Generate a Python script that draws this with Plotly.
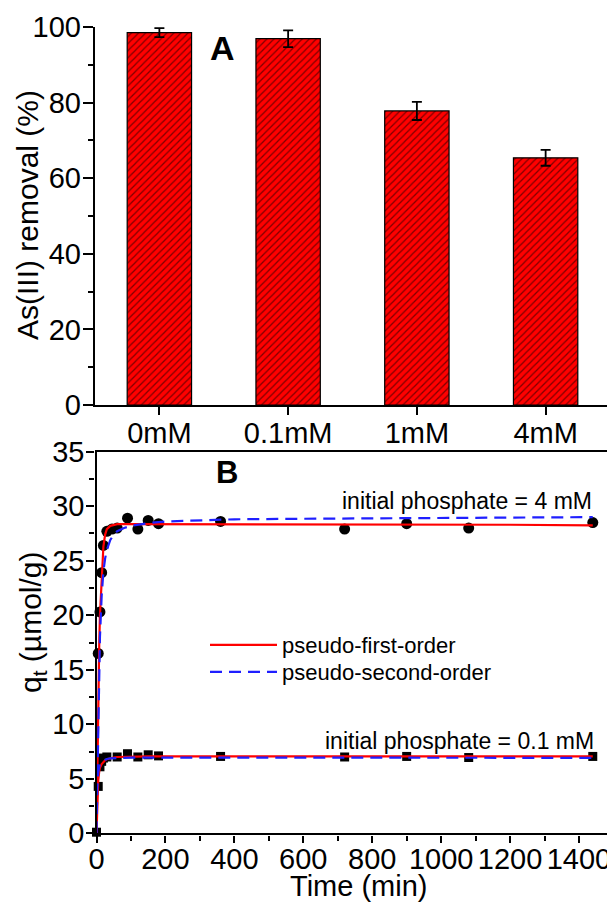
import plotly.graph_objects as go

# page body adds an 8px margin; lay out in reference-pixel coordinates, shifted by it
OFF = 8
W, H = 615 - OFF, 908 - OFF
def px(x): return (x - OFF) / W
def py(y): return 1 - (y - OFF) / H

FONT = "Liberation Sans, Arial, sans-serif"

# ---- Panel A data ----
categories = ["0mM", "0.1mM", "1mM", "4mM"]
removal = [98.5, 96.9, 77.8, 65.4]
removal_err = [1.2, 2.2, 2.4, 2.1]

# ---- Panel B data ----
t_4mM = [5, 10, 15, 20, 30, 45, 60, 90, 120, 150, 180, 360, 720, 900, 1080, 1440]
q_4mM = [16.5, 20.3, 23.9, 26.4, 27.7, 27.9, 28.0, 28.9, 27.9, 28.7, 28.4, 28.6, 27.9, 28.4, 28.0, 28.5]
t_01mM = [0, 5, 10, 15, 20, 30, 60, 90, 120, 150, 180, 360, 720, 900, 1080, 1440]
q_01mM = [0.1, 4.3, 6.1, 6.6, 6.9, 7.0, 7.0, 7.3, 7.0, 7.2, 7.1, 7.05, 7.0, 7.05, 6.95, 7.05]

t_fit = [0, 2, 5, 8, 10, 15, 20, 25, 30, 40, 50, 60, 80, 100, 150, 200, 300, 400, 600, 800, 1000, 1200, 1440]
pfo_4mM = [0, 5.5, 12.5, 17.5, 20.0, 24.0, 26.3, 27.4, 27.9, 28.2, 28.3, 28.35, 28.35, 28.35, 28.35, 28.35,
           28.35, 28.35, 28.3, 28.3, 28.3, 28.3, 28.25]
pso_4mM = [0, 4.5, 10.5, 15.5, 18.0, 21.8, 24.0, 25.2, 26.0, 26.9, 27.4, 27.7, 28.0, 28.2, 28.45, 28.6,
           28.7, 28.8, 28.85, 28.9, 28.95, 28.95, 29.0]
pfo_01mM = [0, 2.5, 4.8, 5.7, 6.0, 6.35, 6.55, 6.7, 6.8, 6.9, 6.95, 7.0, 7.02, 7.05, 7.05, 7.05,
            7.05, 7.05, 7.05, 7.05, 7.05, 7.05, 7.05]
pso_01mM = [0, 4.0, 5.6, 6.2, 6.4, 6.6, 6.7, 6.78, 6.82, 6.88, 6.9, 6.92, 6.94, 6.95, 6.95, 6.95,
            6.95, 6.95, 6.95, 6.93, 6.92, 6.92, 6.92]

fig = go.Figure()

fig.add_trace(go.Bar(
    x=categories, y=removal, width=0.5,
    marker=dict(color="#ff0000", line=dict(color="black", width=1.2),
                pattern=dict(shape="/", fgcolor="black", bgcolor="#ff0000", size=5, solidity=0.25)),
    error_y=dict(type="data", array=removal_err, color="black", thickness=1.8, width=5),
    xaxis="x", yaxis="y", showlegend=False,
))

# data markers
fig.add_trace(go.Scatter(x=t_4mM, y=q_4mM, mode="markers", marker=dict(symbol="circle", size=11, color="black"),
                         showlegend=False, xaxis="x2", yaxis="y2", cliponaxis=False))
fig.add_trace(go.Scatter(x=t_01mM, y=q_01mM, mode="markers", marker=dict(symbol="square", size=9, color="black"),
                         showlegend=False, xaxis="x2", yaxis="y2", cliponaxis=False))

DASH = "12px,7px"
# fits
fig.add_trace(go.Scatter(x=t_fit, y=pfo_4mM, mode="lines", line=dict(color="#ff0000", width=2.2),
                         name="pseudo-first-order", legend="legend", xaxis="x2", yaxis="y2"))
fig.add_trace(go.Scatter(x=t_fit, y=pso_4mM, mode="lines", line=dict(color="#1f1fff", width=2.2, dash=DASH),
                         name="pseudo-second-order", legend="legend2", xaxis="x2", yaxis="y2"))
fig.add_trace(go.Scatter(x=t_fit, y=pfo_01mM, mode="lines", line=dict(color="#ff0000", width=2.2),
                         showlegend=False, xaxis="x2", yaxis="y2"))
fig.add_trace(go.Scatter(x=t_fit, y=pso_01mM, mode="lines", line=dict(color="#1f1fff", width=2.2, dash=DASH),
                         showlegend=False, xaxis="x2", yaxis="y2"))

tickfont = dict(family=FONT, size=29, color="black")
common = dict(showline=True, linecolor="black", linewidth=2.4, ticks="outside", tickwidth=2,
              tickcolor="black", tickfont=tickfont, showgrid=False, zeroline=False, automargin=False)
minor_style = dict(ticks="outside", ticklen=5, tickwidth=2, tickcolor="black", showgrid=False)
legfont = dict(family=FONT, size=22, color="black")

fig.update_layout(
    width=W, height=H,
    margin=dict(l=0, r=0, t=0, b=0, autoexpand=False),
    paper_bgcolor="white", plot_bgcolor="white",
    font=dict(family=FONT, color="black"),
    xaxis=dict(domain=[px(95), px(610)], anchor="y", type="category", range=[-0.5, 3.5],
               ticklen=8, tickangle=0, ticklabelstandoff=-7, **common),
    yaxis=dict(domain=[py(405), py(27)], anchor="x", range=[0, 100], dtick=20, ticklen=10,
               ticklabelstandoff=-4, minor=dict(dtick=10, **minor_style), **common),
    xaxis2=dict(domain=[px(96.5), px(610)], anchor="y2", range=[0, 1490], dtick=200, mirror=True,
                ticklen=7, tickangle=0, ticklabelstandoff=-8, minor=dict(dtick=100, **minor_style), **common),
    yaxis2=dict(domain=[py(833.3), py(451.7)], anchor="x2", range=[0, 35], dtick=5, mirror=True, ticklen=8,
                ticklabelstandoff=-4, minor=dict(dtick=2.5, **minor_style), **common),
    legend=dict(x=px(205), y=py(645), xanchor="left", yanchor="middle", bgcolor="rgba(0,0,0,0)",
                font=legfont, itemwidth=67),
    legend2=dict(x=px(205), y=py(672), xanchor="left", yanchor="middle", bgcolor="rgba(0,0,0,0)",
                 font=legfont, itemwidth=67),
    annotations=[
        dict(text="As(III) removal (%)", x=px(28), y=py(215), textangle=-90),
        dict(text="q<sub>t</sub> (µmol/g)", x=px(32), y=py(622), textangle=-90),
        dict(text="Time (min)", x=px(358), y=py(886), font=dict(family=FONT, size=29, color="black")),
        dict(text="<b>A</b>", x=px(222), y=py(48), font=dict(family=FONT, size=34, color="black")),
        dict(text="<b>B</b>", x=px(227), y=py(472), font=dict(family=FONT, size=31, color="black")),
        dict(text="initial phosphate = 4 mM", x=px(594), y=py(501), xanchor="right",
             font=dict(family=FONT, size=23, color="black")),
        dict(text="initial phosphate = 0.1 mM", x=px(596), y=py(741), xanchor="right",
             font=dict(family=FONT, size=23, color="black")),
    ],
)
for a in fig.layout.annotations:
    a.xref = "paper"
    a.yref = "paper"
    a.showarrow = False
    if a.xanchor is None:
        a.xanchor = "center"
    a.yanchor = "middle"
    if a.font.size is None:
        a.font = dict(family=FONT, size=30, color="black")

fig.write_html("out.html")
